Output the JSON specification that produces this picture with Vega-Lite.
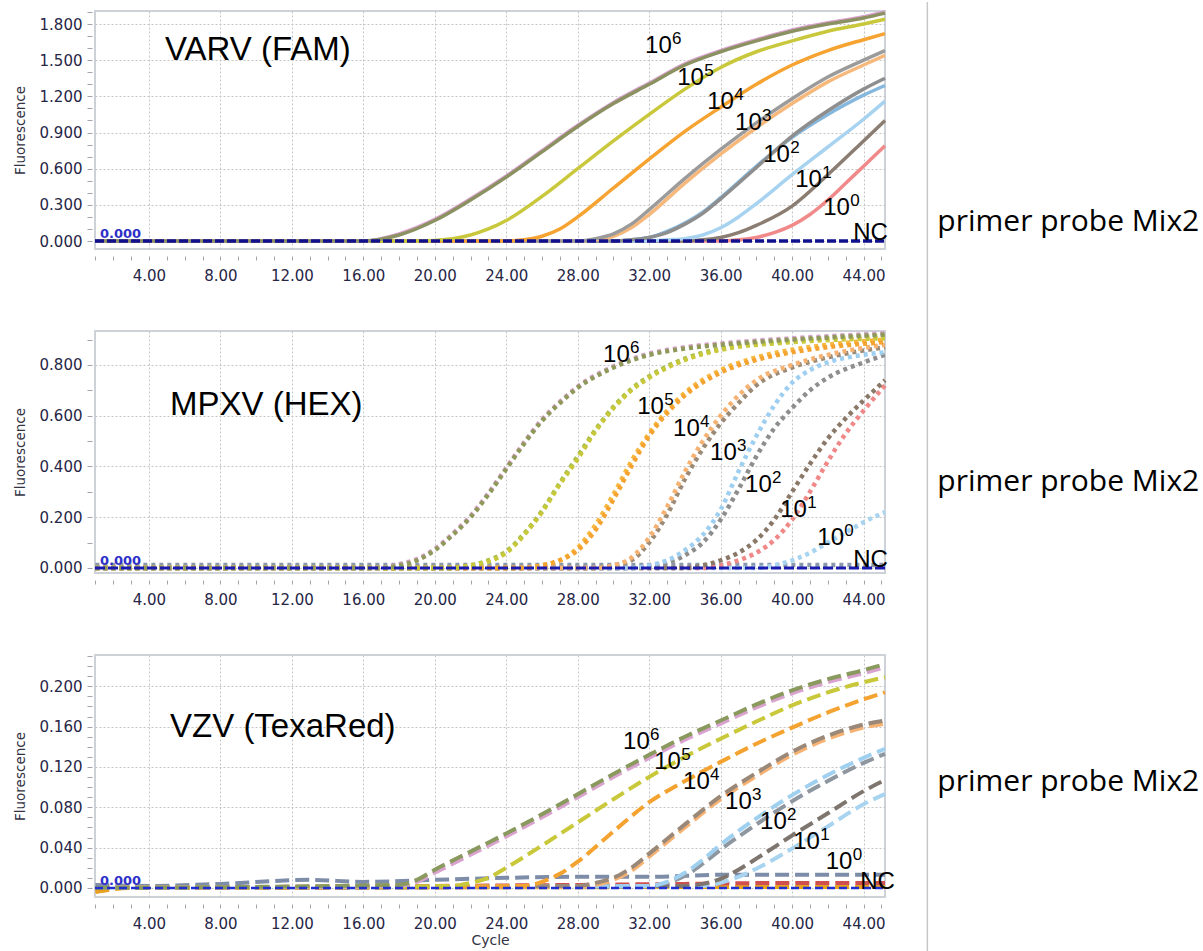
{
  "$schema": "https://vega.github.io/schema/vega-lite/v6.json",
  "background": "white",
  "padding": {"left": 12, "top": 0, "right": 0, "bottom": 0},
  "autosize": {"type": "pad"},
  "bounds": "flush",
  "spacing": 82,
  "resolve": {"scale": {"x": "independent", "y": "independent", "color": "independent"}},
  "config": {
    "view": {"stroke": "#cdd1d8", "strokeWidth": 2},
    "axis": {"labelFont": "DejaVu Sans", "labelFontSize": 15, "labelColor": "#262646", "titleFont": "DejaVu Sans", "titleFontSize": 13.5, "titleFontWeight": "normal", "titleColor": "#333344", "gridColor": "#c4c4c4", "gridDash": [2, 2], "tickColor": "#a0a4ac", "domain": false, "tickCount": 200},
    "text": {"font": "Liberation Sans", "color": "black"}
  },
  "datasets": {
    "varv": [
      {"series":"0a","cycle":1,"value":0},{"series":"0a","cycle":36,"value":0},{"series":"0a","cycle":37,"value":0.01},{"series":"0a","cycle":38,"value":0.03},{"series":"0a","cycle":39,"value":0.07},{"series":"0a","cycle":40,"value":0.13},{"series":"0a","cycle":41,"value":0.22},{"series":"0a","cycle":42,"value":0.34},{"series":"0a","cycle":43,"value":0.48},{"series":"0a","cycle":44,"value":0.62},{"series":"0a","cycle":45.2,"value":0.79},
      {"series":"1b","cycle":1,"value":0},{"series":"1b","cycle":34,"value":0},{"series":"1b","cycle":35,"value":0.01},{"series":"1b","cycle":36,"value":0.03},{"series":"1b","cycle":37,"value":0.07},{"series":"1b","cycle":38,"value":0.13},{"series":"1b","cycle":40,"value":0.29},{"series":"1b","cycle":42,"value":0.55},{"series":"1b","cycle":44,"value":0.83},{"series":"1b","cycle":45.2,"value":1.0},
      {"series":"1a","cycle":1,"value":0},{"series":"1a","cycle":32,"value":0},{"series":"1a","cycle":33,"value":0.01},{"series":"1a","cycle":34,"value":0.02},{"series":"1a","cycle":35,"value":0.05},{"series":"1a","cycle":36,"value":0.11},{"series":"1a","cycle":37,"value":0.2},{"series":"1a","cycle":38,"value":0.31},{"series":"1a","cycle":40,"value":0.55},{"series":"1a","cycle":42,"value":0.78},{"series":"1a","cycle":44,"value":1.01},{"series":"1a","cycle":45.2,"value":1.16},
      {"series":"2a","cycle":1,"value":0},{"series":"2a","cycle":30,"value":0},{"series":"2a","cycle":31,"value":0.01},{"series":"2a","cycle":32,"value":0.03},{"series":"2a","cycle":33,"value":0.08},{"series":"2a","cycle":34,"value":0.15},{"series":"2a","cycle":35,"value":0.24},{"series":"2a","cycle":36,"value":0.36},{"series":"2a","cycle":38,"value":0.62},{"series":"2a","cycle":40,"value":0.86},{"series":"2a","cycle":42,"value":1.05},{"series":"2a","cycle":44,"value":1.21},{"series":"2a","cycle":45.2,"value":1.29},
      {"series":"2b","cycle":1,"value":0},{"series":"2b","cycle":30,"value":0},{"series":"2b","cycle":31,"value":0.01},{"series":"2b","cycle":32,"value":0.03},{"series":"2b","cycle":33,"value":0.07},{"series":"2b","cycle":34,"value":0.14},{"series":"2b","cycle":35,"value":0.23},{"series":"2b","cycle":36,"value":0.35},{"series":"2b","cycle":38,"value":0.61},{"series":"2b","cycle":40,"value":0.87},{"series":"2b","cycle":42,"value":1.08},{"series":"2b","cycle":44,"value":1.26},{"series":"2b","cycle":45.2,"value":1.35},
      {"series":"3a","cycle":1,"value":0},{"series":"3a","cycle":28,"value":0},{"series":"3a","cycle":29,"value":0.01},{"series":"3a","cycle":30,"value":0.04},{"series":"3a","cycle":31,"value":0.11},{"series":"3a","cycle":32,"value":0.22},{"series":"3a","cycle":34,"value":0.48},{"series":"3a","cycle":36,"value":0.72},{"series":"3a","cycle":38,"value":0.94},{"series":"3a","cycle":40,"value":1.14},{"series":"3a","cycle":42,"value":1.32},{"series":"3a","cycle":44,"value":1.46},{"series":"3a","cycle":45.2,"value":1.54},
      {"series":"3b","cycle":1,"value":0},{"series":"3b","cycle":28,"value":0},{"series":"3b","cycle":29,"value":0.02},{"series":"3b","cycle":30,"value":0.06},{"series":"3b","cycle":31,"value":0.14},{"series":"3b","cycle":32,"value":0.26},{"series":"3b","cycle":34,"value":0.52},{"series":"3b","cycle":36,"value":0.76},{"series":"3b","cycle":38,"value":0.98},{"series":"3b","cycle":40,"value":1.18},{"series":"3b","cycle":42,"value":1.36},{"series":"3b","cycle":44,"value":1.5},{"series":"3b","cycle":45.2,"value":1.58},
      {"series":"4a","cycle":1,"value":0},{"series":"4a","cycle":24,"value":0},{"series":"4a","cycle":25,"value":0.01},{"series":"4a","cycle":26,"value":0.04},{"series":"4a","cycle":27,"value":0.1},{"series":"4a","cycle":28,"value":0.2},{"series":"4a","cycle":30,"value":0.44},{"series":"4a","cycle":32,"value":0.68},{"series":"4a","cycle":34,"value":0.91},{"series":"4a","cycle":36,"value":1.11},{"series":"4a","cycle":38,"value":1.3},{"series":"4a","cycle":40,"value":1.46},{"series":"4a","cycle":42,"value":1.58},{"series":"4a","cycle":44,"value":1.67},{"series":"4a","cycle":45.2,"value":1.72},
      {"series":"5a","cycle":1,"value":0},{"series":"5a","cycle":19,"value":0},{"series":"5a","cycle":21,"value":0.02},{"series":"5a","cycle":22,"value":0.05},{"series":"5a","cycle":23,"value":0.1},{"series":"5a","cycle":24,"value":0.17},{"series":"5a","cycle":26,"value":0.37},{"series":"5a","cycle":28,"value":0.6},{"series":"5a","cycle":30,"value":0.83},{"series":"5a","cycle":32,"value":1.05},{"series":"5a","cycle":34,"value":1.26},{"series":"5a","cycle":36,"value":1.44},{"series":"5a","cycle":38,"value":1.57},{"series":"5a","cycle":40,"value":1.66},{"series":"5a","cycle":42,"value":1.74},{"series":"5a","cycle":44,"value":1.8},{"series":"5a","cycle":45.2,"value":1.84},
      {"series":"6a","cycle":1,"value":0},{"series":"6a","cycle":16,"value":0},{"series":"6a","cycle":18,"value":0.06},{"series":"6a","cycle":20,"value":0.18},{"series":"6a","cycle":22,"value":0.35},{"series":"6a","cycle":24,"value":0.54},{"series":"6a","cycle":26,"value":0.75},{"series":"6a","cycle":28,"value":0.96},{"series":"6a","cycle":30,"value":1.15},{"series":"6a","cycle":32,"value":1.31},{"series":"6a","cycle":34,"value":1.47},{"series":"6a","cycle":36,"value":1.58},{"series":"6a","cycle":38,"value":1.67},{"series":"6a","cycle":40,"value":1.75},{"series":"6a","cycle":42,"value":1.81},{"series":"6a","cycle":44,"value":1.86},{"series":"6a","cycle":45.2,"value":1.9},
      {"series":"6b","cycle":1,"value":0},{"series":"6b","cycle":16,"value":0},{"series":"6b","cycle":18,"value":0.05},{"series":"6b","cycle":20,"value":0.17},{"series":"6b","cycle":22,"value":0.34},{"series":"6b","cycle":24,"value":0.53},{"series":"6b","cycle":26,"value":0.74},{"series":"6b","cycle":28,"value":0.95},{"series":"6b","cycle":30,"value":1.14},{"series":"6b","cycle":32,"value":1.3},{"series":"6b","cycle":34,"value":1.46},{"series":"6b","cycle":36,"value":1.57},{"series":"6b","cycle":38,"value":1.66},{"series":"6b","cycle":40,"value":1.74},{"series":"6b","cycle":42,"value":1.8},{"series":"6b","cycle":44,"value":1.85},{"series":"6b","cycle":45.2,"value":1.89}
    ],
    "mpxv": [
      {"series":"nc","cycle":1,"value":0.012},{"series":"nc","cycle":45.2,"value":0.012},
      {"series":"0a","cycle":1,"value":0},{"series":"0a","cycle":38,"value":0},{"series":"0a","cycle":39,"value":0.01},{"series":"0a","cycle":40,"value":0.03},{"series":"0a","cycle":41,"value":0.06},{"series":"0a","cycle":42,"value":0.1},{"series":"0a","cycle":43,"value":0.14},{"series":"0a","cycle":44,"value":0.18},{"series":"0a","cycle":45.2,"value":0.22},
      {"series":"1b","cycle":1,"value":0},{"series":"1b","cycle":35,"value":0},{"series":"1b","cycle":36,"value":0.01},{"series":"1b","cycle":37,"value":0.03},{"series":"1b","cycle":38,"value":0.06},{"series":"1b","cycle":39,"value":0.11},{"series":"1b","cycle":40,"value":0.19},{"series":"1b","cycle":41,"value":0.3},{"series":"1b","cycle":42,"value":0.42},{"series":"1b","cycle":43,"value":0.53},{"series":"1b","cycle":44,"value":0.62},{"series":"1b","cycle":45.2,"value":0.72},
      {"series":"1a","cycle":1,"value":0},{"series":"1a","cycle":34,"value":0},{"series":"1a","cycle":35,"value":0.01},{"series":"1a","cycle":36,"value":0.03},{"series":"1a","cycle":37,"value":0.06},{"series":"1a","cycle":38,"value":0.11},{"series":"1a","cycle":39,"value":0.19},{"series":"1a","cycle":40,"value":0.3},{"series":"1a","cycle":41,"value":0.41},{"series":"1a","cycle":42,"value":0.51},{"series":"1a","cycle":43,"value":0.59},{"series":"1a","cycle":44,"value":0.66},{"series":"1a","cycle":45.2,"value":0.74},
      {"series":"2b","cycle":1,"value":0},{"series":"2b","cycle":31,"value":0},{"series":"2b","cycle":32,"value":0.01},{"series":"2b","cycle":33,"value":0.02},{"series":"2b","cycle":34,"value":0.05},{"series":"2b","cycle":35,"value":0.1},{"series":"2b","cycle":36,"value":0.19},{"series":"2b","cycle":37,"value":0.31},{"series":"2b","cycle":38,"value":0.44},{"series":"2b","cycle":39,"value":0.55},{"series":"2b","cycle":40,"value":0.63},{"series":"2b","cycle":41,"value":0.7},{"series":"2b","cycle":42,"value":0.75},{"series":"2b","cycle":44,"value":0.81},{"series":"2b","cycle":45.2,"value":0.84},
      {"series":"2a","cycle":1,"value":0},{"series":"2a","cycle":31,"value":0},{"series":"2a","cycle":32,"value":0.01},{"series":"2a","cycle":33,"value":0.03},{"series":"2a","cycle":34,"value":0.07},{"series":"2a","cycle":35,"value":0.13},{"series":"2a","cycle":36,"value":0.23},{"series":"2a","cycle":37,"value":0.38},{"series":"2a","cycle":38,"value":0.52},{"series":"2a","cycle":39,"value":0.64},{"series":"2a","cycle":40,"value":0.73},{"series":"2a","cycle":41,"value":0.78},{"series":"2a","cycle":42,"value":0.81},{"series":"2a","cycle":44,"value":0.84},{"series":"2a","cycle":45.2,"value":0.85},
      {"series":"3b","cycle":1,"value":0},{"series":"3b","cycle":29,"value":0},{"series":"3b","cycle":30,"value":0.01},{"series":"3b","cycle":31,"value":0.03},{"series":"3b","cycle":32,"value":0.1},{"series":"3b","cycle":33,"value":0.21},{"series":"3b","cycle":34,"value":0.35},{"series":"3b","cycle":35,"value":0.47},{"series":"3b","cycle":36,"value":0.57},{"series":"3b","cycle":37,"value":0.65},{"series":"3b","cycle":38,"value":0.72},{"series":"3b","cycle":40,"value":0.79},{"series":"3b","cycle":42,"value":0.83},{"series":"3b","cycle":45.2,"value":0.87},
      {"series":"3a","cycle":1,"value":0},{"series":"3a","cycle":29,"value":0},{"series":"3a","cycle":30,"value":0.01},{"series":"3a","cycle":31,"value":0.04},{"series":"3a","cycle":32,"value":0.12},{"series":"3a","cycle":33,"value":0.24},{"series":"3a","cycle":34,"value":0.38},{"series":"3a","cycle":35,"value":0.5},{"series":"3a","cycle":36,"value":0.6},{"series":"3a","cycle":37,"value":0.68},{"series":"3a","cycle":38,"value":0.74},{"series":"3a","cycle":40,"value":0.8},{"series":"3a","cycle":42,"value":0.84},{"series":"3a","cycle":45.2,"value":0.88},
      {"series":"4b","cycle":1,"value":0},{"series":"4b","cycle":25,"value":0},{"series":"4b","cycle":26,"value":0.01},{"series":"4b","cycle":27,"value":0.03},{"series":"4b","cycle":28,"value":0.08},{"series":"4b","cycle":29,"value":0.17},{"series":"4b","cycle":30,"value":0.29},{"series":"4b","cycle":31,"value":0.42},{"series":"4b","cycle":32,"value":0.53},{"series":"4b","cycle":33,"value":0.62},{"series":"4b","cycle":34,"value":0.69},{"series":"4b","cycle":36,"value":0.78},{"series":"4b","cycle":38,"value":0.83},{"series":"4b","cycle":40,"value":0.86},{"series":"4b","cycle":42,"value":0.88},{"series":"4b","cycle":45.2,"value":0.9},
      {"series":"4a","cycle":1,"value":0},{"series":"4a","cycle":25,"value":0},{"series":"4a","cycle":26,"value":0.01},{"series":"4a","cycle":27,"value":0.03},{"series":"4a","cycle":28,"value":0.07},{"series":"4a","cycle":29,"value":0.15},{"series":"4a","cycle":30,"value":0.27},{"series":"4a","cycle":31,"value":0.4},{"series":"4a","cycle":32,"value":0.52},{"series":"4a","cycle":33,"value":0.61},{"series":"4a","cycle":34,"value":0.68},{"series":"4a","cycle":36,"value":0.77},{"series":"4a","cycle":38,"value":0.82},{"series":"4a","cycle":40,"value":0.85},{"series":"4a","cycle":42,"value":0.87},{"series":"4a","cycle":45.2,"value":0.89},
      {"series":"5b","cycle":1,"value":0},{"series":"5b","cycle":21,"value":0},{"series":"5b","cycle":22,"value":0.01},{"series":"5b","cycle":23,"value":0.03},{"series":"5b","cycle":24,"value":0.065},{"series":"5b","cycle":25,"value":0.135},{"series":"5b","cycle":26,"value":0.225},{"series":"5b","cycle":27,"value":0.335},{"series":"5b","cycle":28,"value":0.44},{"series":"5b","cycle":29,"value":0.545},{"series":"5b","cycle":30,"value":0.635},{"series":"5b","cycle":31,"value":0.705},{"series":"5b","cycle":32,"value":0.755},{"series":"5b","cycle":34,"value":0.825},{"series":"5b","cycle":36,"value":0.865},{"series":"5b","cycle":40,"value":0.895},{"series":"5b","cycle":45.2,"value":0.915},
      {"series":"5a","cycle":1,"value":0},{"series":"5a","cycle":21,"value":0},{"series":"5a","cycle":22,"value":0.01},{"series":"5a","cycle":23,"value":0.025},{"series":"5a","cycle":24,"value":0.06},{"series":"5a","cycle":25,"value":0.13},{"series":"5a","cycle":26,"value":0.22},{"series":"5a","cycle":27,"value":0.33},{"series":"5a","cycle":28,"value":0.43},{"series":"5a","cycle":29,"value":0.54},{"series":"5a","cycle":30,"value":0.63},{"series":"5a","cycle":31,"value":0.7},{"series":"5a","cycle":32,"value":0.75},{"series":"5a","cycle":34,"value":0.82},{"series":"5a","cycle":36,"value":0.86},{"series":"5a","cycle":40,"value":0.89},{"series":"5a","cycle":45.2,"value":0.905},
      {"series":"6a","cycle":1,"value":0},{"series":"6a","cycle":17,"value":0},{"series":"6a","cycle":18,"value":0.015},{"series":"6a","cycle":19,"value":0.035},{"series":"6a","cycle":20,"value":0.075},{"series":"6a","cycle":21,"value":0.135},{"series":"6a","cycle":22,"value":0.205},{"series":"6a","cycle":23,"value":0.295},{"series":"6a","cycle":24,"value":0.395},{"series":"6a","cycle":25,"value":0.495},{"series":"6a","cycle":26,"value":0.585},{"series":"6a","cycle":27,"value":0.655},{"series":"6a","cycle":28,"value":0.715},{"series":"6a","cycle":30,"value":0.795},{"series":"6a","cycle":32,"value":0.845},{"series":"6a","cycle":34,"value":0.87},{"series":"6a","cycle":36,"value":0.885},{"series":"6a","cycle":40,"value":0.905},{"series":"6a","cycle":45.2,"value":0.925},
      {"series":"6b","cycle":1,"value":0},{"series":"6b","cycle":17,"value":0},{"series":"6b","cycle":18,"value":0.01},{"series":"6b","cycle":19,"value":0.03},{"series":"6b","cycle":20,"value":0.07},{"series":"6b","cycle":21,"value":0.13},{"series":"6b","cycle":22,"value":0.2},{"series":"6b","cycle":23,"value":0.29},{"series":"6b","cycle":24,"value":0.39},{"series":"6b","cycle":25,"value":0.49},{"series":"6b","cycle":26,"value":0.58},{"series":"6b","cycle":27,"value":0.65},{"series":"6b","cycle":28,"value":0.71},{"series":"6b","cycle":30,"value":0.79},{"series":"6b","cycle":32,"value":0.84},{"series":"6b","cycle":34,"value":0.865},{"series":"6b","cycle":36,"value":0.88},{"series":"6b","cycle":40,"value":0.9},{"series":"6b","cycle":45.2,"value":0.92}
    ],
    "vzv": [
      {"series":"ncc","cycle":1,"value":-0.004},{"series":"ncc","cycle":3,"value":0},{"series":"ncc","cycle":45.2,"value":0.001},
      {"series":"ncb","cycle":1,"value":0},{"series":"ncb","cycle":20,"value":0.002},{"series":"ncb","cycle":28,"value":0.003},{"series":"ncb","cycle":34,"value":0.004},{"series":"ncb","cycle":40,"value":0.005},{"series":"ncb","cycle":45.2,"value":0.005},
      {"series":"nca","cycle":1,"value":0.003},{"series":"nca","cycle":4,"value":0.002},{"series":"nca","cycle":8,"value":0.004},{"series":"nca","cycle":13,"value":0.008},{"series":"nca","cycle":16,"value":0.006},{"series":"nca","cycle":20,"value":0.008},{"series":"nca","cycle":24,"value":0.01},{"series":"nca","cycle":28,"value":0.011},{"series":"nca","cycle":32,"value":0.011},{"series":"nca","cycle":36,"value":0.013},{"series":"nca","cycle":40,"value":0.013},{"series":"nca","cycle":45.2,"value":0.013},
      {"series":"1b","cycle":1,"value":0},{"series":"1b","cycle":35,"value":0.002},{"series":"1b","cycle":36,"value":0.005},{"series":"1b","cycle":37,"value":0.011},{"series":"1b","cycle":38,"value":0.019},{"series":"1b","cycle":40,"value":0.039},{"series":"1b","cycle":42,"value":0.061},{"series":"1b","cycle":44,"value":0.083},{"series":"1b","cycle":45.2,"value":0.093},
      {"series":"1a","cycle":1,"value":0},{"series":"1a","cycle":34,"value":0.002},{"series":"1a","cycle":35,"value":0.004},{"series":"1a","cycle":36,"value":0.009},{"series":"1a","cycle":37,"value":0.018},{"series":"1a","cycle":38,"value":0.029},{"series":"1a","cycle":40,"value":0.052},{"series":"1a","cycle":42,"value":0.074},{"series":"1a","cycle":44,"value":0.096},{"series":"1a","cycle":45.2,"value":0.107},
      {"series":"2b","cycle":1,"value":0},{"series":"2b","cycle":32,"value":0.002},{"series":"2b","cycle":33,"value":0.005},{"series":"2b","cycle":34,"value":0.012},{"series":"2b","cycle":35,"value":0.024},{"series":"2b","cycle":36,"value":0.038},{"series":"2b","cycle":38,"value":0.063},{"series":"2b","cycle":40,"value":0.086},{"series":"2b","cycle":42,"value":0.106},{"series":"2b","cycle":44,"value":0.124},{"series":"2b","cycle":45.2,"value":0.133},
      {"series":"2a","cycle":1,"value":0},{"series":"2a","cycle":32,"value":0.002},{"series":"2a","cycle":33,"value":0.006},{"series":"2a","cycle":34,"value":0.015},{"series":"2a","cycle":35,"value":0.028},{"series":"2a","cycle":36,"value":0.043},{"series":"2a","cycle":38,"value":0.069},{"series":"2a","cycle":40,"value":0.092},{"series":"2a","cycle":42,"value":0.112},{"series":"2a","cycle":44,"value":0.129},{"series":"2a","cycle":45.2,"value":0.138},
      {"series":"3a","cycle":1,"value":0},{"series":"3a","cycle":28,"value":0.001},{"series":"3a","cycle":29,"value":0.003},{"series":"3a","cycle":30,"value":0.008},{"series":"3a","cycle":31,"value":0.017},{"series":"3a","cycle":32,"value":0.031},{"series":"3a","cycle":34,"value":0.06},{"series":"3a","cycle":36,"value":0.088},{"series":"3a","cycle":38,"value":0.111},{"series":"3a","cycle":40,"value":0.132},{"series":"3a","cycle":42,"value":0.148},{"series":"3a","cycle":44,"value":0.159},{"series":"3a","cycle":45.2,"value":0.163},
      {"series":"3b","cycle":1,"value":0},{"series":"3b","cycle":28,"value":0.002},{"series":"3b","cycle":29,"value":0.005},{"series":"3b","cycle":30,"value":0.01},{"series":"3b","cycle":31,"value":0.02},{"series":"3b","cycle":32,"value":0.034},{"series":"3b","cycle":34,"value":0.063},{"series":"3b","cycle":36,"value":0.091},{"series":"3b","cycle":38,"value":0.114},{"series":"3b","cycle":40,"value":0.135},{"series":"3b","cycle":42,"value":0.151},{"series":"3b","cycle":44,"value":0.162},{"series":"3b","cycle":45.2,"value":0.166},
      {"series":"4a","cycle":1,"value":0},{"series":"4a","cycle":25,"value":0.002},{"series":"4a","cycle":26,"value":0.006},{"series":"4a","cycle":27,"value":0.014},{"series":"4a","cycle":28,"value":0.026},{"series":"4a","cycle":30,"value":0.056},{"series":"4a","cycle":32,"value":0.085},{"series":"4a","cycle":34,"value":0.106},{"series":"4a","cycle":36,"value":0.125},{"series":"4a","cycle":38,"value":0.143},{"series":"4a","cycle":40,"value":0.159},{"series":"4a","cycle":42,"value":0.174},{"series":"4a","cycle":44,"value":0.187},{"series":"4a","cycle":45.2,"value":0.194},
      {"series":"5a","cycle":1,"value":0},{"series":"5a","cycle":21,"value":0.002},{"series":"5a","cycle":22,"value":0.005},{"series":"5a","cycle":23,"value":0.01},{"series":"5a","cycle":24,"value":0.02},{"series":"5a","cycle":26,"value":0.042},{"series":"5a","cycle":28,"value":0.065},{"series":"5a","cycle":30,"value":0.088},{"series":"5a","cycle":32,"value":0.11},{"series":"5a","cycle":34,"value":0.13},{"series":"5a","cycle":36,"value":0.148},{"series":"5a","cycle":38,"value":0.165},{"series":"5a","cycle":40,"value":0.181},{"series":"5a","cycle":42,"value":0.194},{"series":"5a","cycle":44,"value":0.204},{"series":"5a","cycle":45.2,"value":0.209},
      {"series":"6a","cycle":1,"value":0},{"series":"6a","cycle":18,"value":0.002},{"series":"6a","cycle":19,"value":0.006},{"series":"6a","cycle":20,"value":0.015},{"series":"6a","cycle":22,"value":0.033},{"series":"6a","cycle":24,"value":0.051},{"series":"6a","cycle":26,"value":0.07},{"series":"6a","cycle":28,"value":0.09},{"series":"6a","cycle":30,"value":0.11},{"series":"6a","cycle":32,"value":0.129},{"series":"6a","cycle":34,"value":0.147},{"series":"6a","cycle":36,"value":0.163},{"series":"6a","cycle":38,"value":0.179},{"series":"6a","cycle":40,"value":0.193},{"series":"6a","cycle":42,"value":0.204},{"series":"6a","cycle":44,"value":0.213},{"series":"6a","cycle":45.2,"value":0.219},
      {"series":"6b","cycle":1,"value":0},{"series":"6b","cycle":18,"value":0.003},{"series":"6b","cycle":19,"value":0.008},{"series":"6b","cycle":20,"value":0.018},{"series":"6b","cycle":22,"value":0.036},{"series":"6b","cycle":24,"value":0.054},{"series":"6b","cycle":26,"value":0.073},{"series":"6b","cycle":28,"value":0.093},{"series":"6b","cycle":30,"value":0.113},{"series":"6b","cycle":32,"value":0.132},{"series":"6b","cycle":34,"value":0.15},{"series":"6b","cycle":36,"value":0.166},{"series":"6b","cycle":38,"value":0.182},{"series":"6b","cycle":40,"value":0.196},{"series":"6b","cycle":42,"value":0.207},{"series":"6b","cycle":44,"value":0.216},{"series":"6b","cycle":45.2,"value":0.222}
    ],
    "labels": [
      {"panel":"VARV","base":"10","exp":"6","cycle":31.77,"value":1.56},
      {"panel":"VARV","base":"10","exp":"5","cycle":33.57,"value":1.294},
      {"panel":"VARV","base":"10","exp":"4","cycle":35.25,"value":1.095},
      {"panel":"VARV","base":"10","exp":"3","cycle":36.81,"value":0.921},
      {"panel":"VARV","base":"10","exp":"2","cycle":38.38,"value":0.656},
      {"panel":"VARV","base":"10","exp":"1","cycle":40.17,"value":0.448},
      {"panel":"VARV","base":"10","exp":"0","cycle":41.74,"value":0.216},
      {"panel":"VARV","base":"NC","exp":"","cycle":43.42,"value":0.009},
      {"panel":"MPXV","base":"10","exp":"6","cycle":29.42,"value":0.812},
      {"panel":"MPXV","base":"10","exp":"5","cycle":31.33,"value":0.607},
      {"panel":"MPXV","base":"10","exp":"4","cycle":33.34,"value":0.52},
      {"panel":"MPXV","base":"10","exp":"3","cycle":35.41,"value":0.426},
      {"panel":"MPXV","base":"10","exp":"2","cycle":37.37,"value":0.299},
      {"panel":"MPXV","base":"10","exp":"1","cycle":39.33,"value":0.201},
      {"panel":"MPXV","base":"10","exp":"0","cycle":41.41,"value":0.09},
      {"panel":"MPXV","base":"NC","exp":"","cycle":43.42,"value":0.004},
      {"panel":"VZV","base":"10","exp":"6","cycle":30.54,"value":0.1377},
      {"panel":"VZV","base":"10","exp":"5","cycle":32.28,"value":0.1179},
      {"panel":"VZV","base":"10","exp":"4","cycle":33.9,"value":0.0981},
      {"panel":"VZV","base":"10","exp":"3","cycle":36.25,"value":0.0782},
      {"panel":"VZV","base":"10","exp":"2","cycle":38.21,"value":0.0584},
      {"panel":"VZV","base":"10","exp":"1","cycle":40.06,"value":0.0385},
      {"panel":"VZV","base":"10","exp":"0","cycle":41.88,"value":0.0187},
      {"panel":"VZV","base":"NC","exp":"","cycle":43.81,"value":-0.0011}
    ]
  },
  "vconcat": [
    {
      "width": 790, "height": 238,
      "data": {"values": [{}]},
      "layer": [
        {
          "data": {"name": "varv"},
          "mark": {"type": "line", "strokeWidth": 3.5, "interpolate": "monotone"},
          "encoding": {
            "x": {"field": "cycle", "type": "quantitative", "scale": {"domain": [0.98, 45.2], "nice": false, "zero": false},
                  "axis": {"values": [1,2,3,4,5,6,7,8,9,10,11,12,13,14,15,16,17,18,19,20,21,22,23,24,25,26,27,28,29,30,31,32,33,34,35,36,37,38,39,40,41,42,43,44,45], "tickCount": 200, "labelExpr": "datum.value % 4 === 0 ? format(datum.value, '.2f') : ''", "gridOpacity": {"condition": {"test": "datum.value % 4 === 0", "value": 1}, "value": 0}, "tickSize": 4, "offset": 7, "labelPadding": 8, "title": null, "labelFlush": false, "labelOverlap": false, "labelBound": false}},
            "y": {"field": "value", "type": "quantitative", "scale": {"domain": [-0.066, 1.908], "nice": false, "zero": false},
                  "axis": {"values": [0,0.1,0.2,0.3,0.4,0.5,0.6,0.7,0.8,0.9,1,1.1,1.2,1.3,1.4,1.5,1.6,1.7,1.8,1.9], "tickCount": 200, "labelExpr": "round(datum.value*10) % 3 === 0 ? format(datum.value, '.3f') : ''", "gridOpacity": {"condition": {"test": "round(datum.value*10) % 3 === 0", "value": 1}, "value": 0}, "tickSize": 5, "offset": 3, "labelPadding": 5, "title": "Fluorescence", "titlePadding": 12, "labelOverlap": false, "labelFlush": false}},
            "color": {"field": "series", "type": "nominal", "legend": null,
                      "scale": {"domain": ["0a","1b","1a","2a","2b","3a","3b","4a","5a","6a","6b"], "range": ["#f08a8a","#8b7d72","#a7d3f0","#86b8de","#8e8e8e","#f7b87c","#9b9b9b","#f6a331","#c9c83c","#d9a2cf","#8b9161"]}}
          }
        },
        {"mark": {"type": "rule", "color": "#10108f", "strokeWidth": 3.5, "strokeDash": [9, 3]},
         "encoding": {"x": {"datum": 0.98}, "x2": {"datum": 45.2}, "y": {"datum": 0}}},
        {"mark": {"type": "text", "align": "left", "baseline": "alphabetic", "dy": -3, "font": "DejaVu Sans", "fontSize": 13, "fontWeight": "bold", "color": "#2f2fc8"},
         "encoding": {"x": {"datum": 1.26}, "y": {"datum": 0}, "text": {"value": "0.000"}}},
        {"mark": {"type": "text", "align": "left", "baseline": "alphabetic", "fontSize": 33},
         "encoding": {"x": {"datum": 4.9}, "y": {"datum": 1.502}, "text": {"value": "VARV (FAM)"}}},
        {"data": {"name": "labels"}, "transform": [{"filter": "datum.panel === 'VARV'"}],
         "mark": {"type": "text", "align": "left", "baseline": "alphabetic", "fontSize": 24},
         "encoding": {"x": {"field": "cycle", "type": "quantitative", "title": null}, "y": {"field": "value", "type": "quantitative", "title": "Fluorescence"}, "text": {"field": "base"}}},
        {"data": {"name": "labels"}, "transform": [{"filter": "datum.panel === 'VARV'"}],
         "mark": {"type": "text", "align": "left", "baseline": "alphabetic", "fontSize": 17, "dx": 27, "dy": -9},
         "encoding": {"x": {"field": "cycle", "type": "quantitative", "title": null}, "y": {"field": "value", "type": "quantitative", "title": "Fluorescence"}, "text": {"field": "exp"}}},
        {"mark": {"type": "rule", "color": "#c8c8c8", "strokeWidth": 1.5},
         "encoding": {"x": {"datum": 47.57}, "y": {"datum": 1.983}, "y2": {"datum": -0.746}}},
        {"mark": {"type": "text", "align": "left", "baseline": "middle", "font": "Open Sans", "fontSize": 30},
         "encoding": {"x": {"datum": 48.13}, "y": {"datum": 0.158}, "text": {"value": "primer probe Mix2"}}}
      ]
    },
    {
      "width": 790, "height": 242,
      "data": {"values": [{}]},
      "layer": [
        {
          "data": {"name": "mpxv"},
          "mark": {"type": "line", "strokeWidth": 4.5, "strokeDash": [4, 4], "interpolate": "monotone"},
          "encoding": {
            "x": {"field": "cycle", "type": "quantitative", "scale": {"domain": [0.98, 45.2], "nice": false, "zero": false},
                  "axis": {"values": [1,2,3,4,5,6,7,8,9,10,11,12,13,14,15,16,17,18,19,20,21,22,23,24,25,26,27,28,29,30,31,32,33,34,35,36,37,38,39,40,41,42,43,44,45], "tickCount": 200, "labelExpr": "datum.value % 4 === 0 ? format(datum.value, '.2f') : ''", "gridOpacity": {"condition": {"test": "datum.value % 4 === 0", "value": 1}, "value": 0}, "tickSize": 4, "offset": 7, "labelPadding": 8, "title": null, "labelFlush": false, "labelOverlap": false, "labelBound": false}},
            "y": {"field": "value", "type": "quantitative", "scale": {"domain": [-0.02, 0.934], "nice": false, "zero": false},
                  "axis": {"values": [0,0.1,0.2,0.3,0.4,0.5,0.6,0.7,0.8,0.9], "tickCount": 200, "labelExpr": "round(datum.value*10) % 2 === 0 ? format(datum.value, '.3f') : ''", "gridOpacity": {"condition": {"test": "round(datum.value*10) % 2 === 0", "value": 1}, "value": 0}, "tickSize": 5, "offset": 3, "labelPadding": 5, "title": "Fluorescence", "titlePadding": 12, "labelOverlap": false, "labelFlush": false}},
            "color": {"field": "series", "type": "nominal", "legend": null,
                      "scale": {"domain": ["nc","0a","1b","1a","2b","2a","3b","3a","4b","4a","5b","5a","6a","6b"], "range": ["#8a98ac","#a8d4f0","#f08888","#8a7868","#8e8e8e","#9fcff0","#9a8a76","#f6b272","#f8b840","#f5a330","#a3bd4a","#c8c83a","#d9a2cf","#8f9a5a"]}}
          }
        },
        {"mark": {"type": "rule", "color": "#1a1ab0", "strokeWidth": 3, "strokeDash": [10, 3]},
         "encoding": {"x": {"datum": 0.98}, "x2": {"datum": 45.2}, "y": {"datum": 0}}},
        {"mark": {"type": "text", "align": "left", "baseline": "alphabetic", "dy": -3, "font": "DejaVu Sans", "fontSize": 13, "fontWeight": "bold", "color": "#2f2fc8"},
         "encoding": {"x": {"datum": 1.26}, "y": {"datum": 0}, "text": {"value": "0.000"}}},
        {"mark": {"type": "text", "align": "left", "baseline": "alphabetic", "fontSize": 33},
         "encoding": {"x": {"datum": 5.18}, "y": {"datum": 0.603}, "text": {"value": "MPXV (HEX)"}}},
        {"data": {"name": "labels"}, "transform": [{"filter": "datum.panel === 'MPXV'"}],
         "mark": {"type": "text", "align": "left", "baseline": "alphabetic", "fontSize": 24},
         "encoding": {"x": {"field": "cycle", "type": "quantitative", "title": null}, "y": {"field": "value", "type": "quantitative", "title": "Fluorescence"}, "text": {"field": "base"}}},
        {"data": {"name": "labels"}, "transform": [{"filter": "datum.panel === 'MPXV'"}],
         "mark": {"type": "text", "align": "left", "baseline": "alphabetic", "fontSize": 17, "dx": 27, "dy": -9},
         "encoding": {"x": {"field": "cycle", "type": "quantitative", "title": null}, "y": {"field": "value", "type": "quantitative", "title": "Fluorescence"}, "text": {"field": "exp"}}},
        {"mark": {"type": "rule", "color": "#c8c8c8", "strokeWidth": 1.5},
         "encoding": {"x": {"datum": 47.57}, "y": {"datum": 0.934}, "y2": {"datum": -0.343}}},
        {"mark": {"type": "text", "align": "left", "baseline": "middle", "font": "Open Sans", "fontSize": 30},
         "encoding": {"x": {"datum": 48.13}, "y": {"datum": 0.339}, "text": {"value": "primer probe Mix2"}}}
      ]
    },
    {
      "width": 790, "height": 242,
      "data": {"values": [{}]},
      "layer": [
        {
          "data": {"name": "vzv"},
          "mark": {"type": "line", "strokeWidth": 4, "strokeDash": [14, 6], "interpolate": "monotone"},
          "encoding": {
            "x": {"field": "cycle", "type": "quantitative", "scale": {"domain": [0.98, 45.2], "nice": false, "zero": false},
                  "axis": {"values": [1,2,3,4,5,6,7,8,9,10,11,12,13,14,15,16,17,18,19,20,21,22,23,24,25,26,27,28,29,30,31,32,33,34,35,36,37,38,39,40,41,42,43,44,45], "tickCount": 200, "labelExpr": "datum.value % 4 === 0 ? format(datum.value, '.2f') : ''", "gridOpacity": {"condition": {"test": "datum.value % 4 === 0", "value": 1}, "value": 0}, "tickSize": 4, "offset": 7, "labelPadding": 8, "title": "Cycle", "titleFontSize": 14, "titlePadding": 2, "labelFlush": false, "labelOverlap": false, "labelBound": false}},
            "y": {"field": "value", "type": "quantitative", "scale": {"domain": [-0.009, 0.231], "nice": false, "zero": false},
                  "axis": {"values": [0,0.01,0.02,0.03,0.04,0.05,0.06,0.07,0.08,0.09,0.1,0.11,0.12,0.13,0.14,0.15,0.16,0.17,0.18,0.19,0.2,0.21,0.22,0.23], "tickCount": 200, "labelExpr": "round(datum.value*100) % 4 === 0 ? format(datum.value, '.3f') : ''", "gridOpacity": {"condition": {"test": "round(datum.value*100) % 4 === 0", "value": 1}, "value": 0}, "tickSize": 5, "offset": 3, "labelPadding": 5, "title": "Fluorescence", "titlePadding": 12, "labelOverlap": false, "labelFlush": false}},
            "color": {"field": "series", "type": "nominal", "legend": null,
                      "scale": {"domain": ["ncc","ncb","nca","1b","1a","2b","2a","3a","3b","4a","5a","6a","6b"], "range": ["#e8a020","#d05050","#7d8ca8","#a8d4f0","#7e766e","#8e96a0","#a0d0f0","#f6b272","#9a8878","#f5a330","#c8c83a","#d9a2cf","#8a9a5e"]}}
          }
        },
        {"mark": {"type": "rule", "color": "#2030d0", "strokeWidth": 2.5, "strokeDash": [8, 4]},
         "encoding": {"x": {"datum": 0.98}, "x2": {"datum": 45.2}, "y": {"datum": 0}}},
        {"mark": {"type": "text", "align": "left", "baseline": "alphabetic", "dy": -3, "font": "DejaVu Sans", "fontSize": 13, "fontWeight": "bold", "color": "#2f2fc8"},
         "encoding": {"x": {"datum": 1.26}, "y": {"datum": 0}, "text": {"value": "0.000"}}},
        {"mark": {"type": "text", "align": "left", "baseline": "alphabetic", "fontSize": 33},
         "encoding": {"x": {"datum": 5.18}, "y": {"datum": 0.1497}, "text": {"value": "VZV (TexaRed)"}}},
        {"data": {"name": "labels"}, "transform": [{"filter": "datum.panel === 'VZV'"}],
         "mark": {"type": "text", "align": "left", "baseline": "alphabetic", "fontSize": 24},
         "encoding": {"x": {"field": "cycle", "type": "quantitative", "title": "Cycle"}, "y": {"field": "value", "type": "quantitative", "title": "Fluorescence"}, "text": {"field": "base"}}},
        {"data": {"name": "labels"}, "transform": [{"filter": "datum.panel === 'VZV'"}],
         "mark": {"type": "text", "align": "left", "baseline": "alphabetic", "fontSize": 17, "dx": 27, "dy": -9},
         "encoding": {"x": {"field": "cycle", "type": "quantitative", "title": "Cycle"}, "y": {"field": "value", "type": "quantitative", "title": "Fluorescence"}, "text": {"field": "exp"}}},
        {"mark": {"type": "rule", "color": "#c8c8c8", "strokeWidth": 1.5},
         "encoding": {"x": {"datum": 47.57}, "y": {"datum": 0.231}, "y2": {"datum": -0.0646}}},
        {"mark": {"type": "text", "align": "left", "baseline": "middle", "font": "Open Sans", "fontSize": 30},
         "encoding": {"x": {"datum": 48.13}, "y": {"datum": 0.105}, "text": {"value": "primer probe Mix2"}}}
      ]
    }
  ]
}
